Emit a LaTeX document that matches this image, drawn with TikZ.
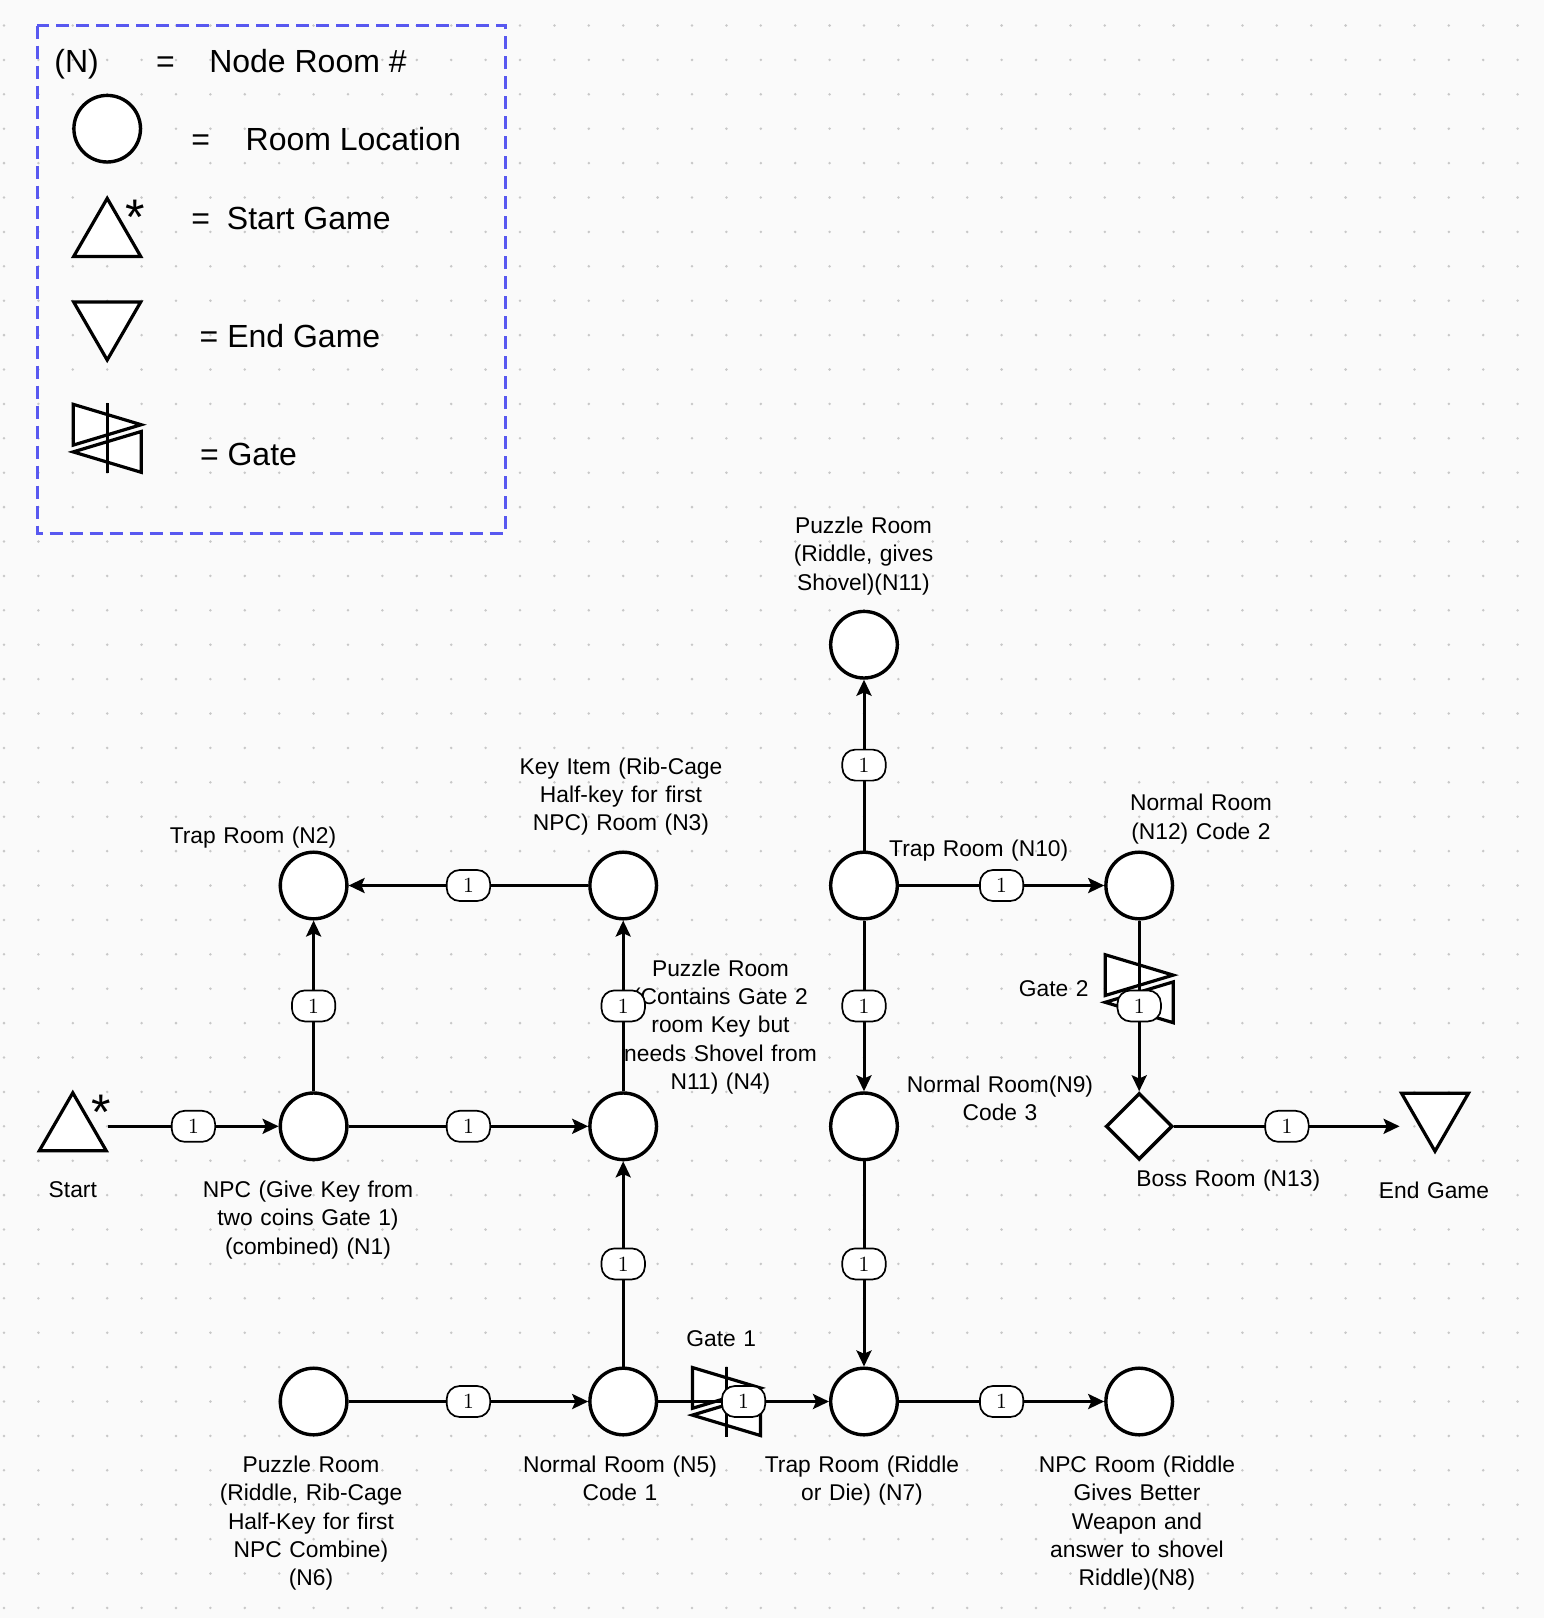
\documentclass[tikz,border=0pt]{standalone}
\usepackage{fontspec}
\newfontfamily\labelfont{Liberation Sans}
\usetikzlibrary{arrows.meta,shapes.geometric}
\definecolor{canvas}{RGB}{250,250,250}
\definecolor{griddot}{RGB}{200,200,200}
\definecolor{legendblue}{RGB}{88,88,240}

% draws a gate symbol (two offset triangles and a bar) on a marker node
\newcommand\gatemark[1]{%
  \draw[symline] ([shift={(-34,-34)}]#1.center) -- ++(68,20.4) -- ++(-68,20.4) -- cycle;
  \draw[symline] ([shift={(34,-6.8)}]#1.center) -- ++(-68,20.4) -- ++(68,20.4) -- cycle;
  \draw[symline] ([shift={(0,-35)}]#1.center) -- ++(0,70);
}
% start marker: upward triangle
\newcommand\startmark[1]{%
  \draw[symline] ([shift={(0,-33.5)}]#1.center) -- ++(-33.5,58) -- ++(67,0) -- cycle;
}
% finish marker: downward triangle
\newcommand\finishmark[1]{%
  \draw[symline] ([shift={(-33.5,-33.1)}]#1.center) -- ++(67,0) -- ++(-33.5,58) -- cycle;
}

\begin{document}
\begin{tikzpicture}[x=0.5pt,y=-0.5pt,
  room/.style={circle, draw, line width=1.7pt, fill=white, minimum size=33.3pt, inner sep=0pt},
  boss/.style={diamond, draw, line width=1.7pt, fill=white, minimum width=33.3pt, minimum height=33.3pt, inner sep=0pt},
  markbox/.style={rectangle, draw=none, minimum size=35pt, inner sep=0pt},
  symline/.style={line width=1.6pt, fill=white, line join=miter},
  flow/.style={line width=1.5pt, -{Stealth[length=8pt,width=7.5pt,inset=1.6pt]}},
  tally/.style={fill=white, draw, line width=0.85pt, rounded corners=6.5pt, minimum width=21.7pt, minimum height=15.5pt, inner sep=0pt, font=\fontsize{10.8}{12}\selectfont},
  roomlabel/.style={font=\labelfont\fontsize{11.4}{14.2}\selectfont, text width=150pt, align=center, anchor=base, inner sep=0pt},
  legendtext/.style={font=\labelfont\fontsize{16}{19.5}\selectfont, anchor=base, inner sep=0pt},
  starglyph/.style={font=\labelfont\fontsize{25}{25}\selectfont, anchor=base, inner sep=0pt},
]
\useasboundingbox (0,0) rectangle (1544,1618);
\fill[canvas] (0,0) rectangle (1544,1618);

% dotted background grid
\foreach \i in {0,...,44}{%
  \foreach \j in {0,...,46}{%
    \fill[griddot] ({4+34.4*\i},{25.5+34.4*\j}) circle (0.7pt);
  }%
}

% ---------- legend ----------
\draw[legendblue, line width=1.35pt, dash pattern=on 6.5pt off 3.5pt] (37.3,25.7) rectangle (505.7,533.3);
\node[legendtext] (legN) at (76.7,72.3) {(N)};
\node[legendtext] (legEqA) at (165.5,72.3) {=};
\node[legendtext] (legNode) at (308,72.3) {Node Room \#};

\node[room] (legRoom) at (107.2,128.7) {};
\node[legendtext] (legEqB) at (200.8,150.5) {=};
\node[legendtext] (legRoomText) at (353.3,150.7) {Room Location};

\node[markbox] (legStart) at (107.2,231.9) {};
\startmark{legStart}
\node[starglyph] (legStar) at (135.3,234.2) {*};
\node[legendtext] (legEqC) at (200.8,229.3) {=};
\node[legendtext] (legStartText) at (308.8,229.3) {Start Game};

\node[markbox] (legEnd) at (107.2,335.1) {};
\finishmark{legEnd}
\node[legendtext] (legEndText) at (290,347.7) {= End Game};

\node[markbox] (legGate) at (107.2,438.3) {};
\gatemark{legGate}
\node[legendtext] (legGateText) at (248.5,465) {= Gate};

% ---------- room captions ----------
\node[roomlabel] (capN11) at (863.5,533.3) {Puzzle Room\\(Riddle, gives\\Shovel)(N11)};
\node[roomlabel] (capN3) at (621,774) {Key Item (Rib-Cage\\Half-key for first\\NPC) Room (N3)};
\node[roomlabel] (capN2) at (253,843.3) {Trap Room (N2)};
\node[roomlabel] (capN10) at (978.7,856.7) {Trap Room (N10)};
\node[roomlabel] (capN12) at (1201,810.7) {Normal Room\\(N12) Code 2};
\node[roomlabel] (capN4) at (720.5,976) {Puzzle Room\\(Contains Gate 2\\room Key but\\needs Shovel from\\N11) (N4)};
\node[roomlabel] (capGateB) at (1053.8,996) {Gate 2};
\node[roomlabel] (capN9) at (1000,1092) {Normal Room(N9)\\Code 3};
\node[roomlabel] (capStart) at (72.8,1197.3) {Start};
\node[roomlabel] (capN1) at (308,1197.3) {NPC (Give Key from\\two coins Gate 1)\\(combined) (N1)};
\node[roomlabel] (capN13) at (1228.3,1186.7) {Boss Room (N13)};
\node[roomlabel] (capEnd) at (1434,1198.3) {End Game};
\node[roomlabel] (capGateA) at (721.2,1346.7) {Gate 1};
\node[roomlabel] (capN6) at (311,1472.3) {Puzzle Room\\(Riddle, Rib-Cage\\Half-Key for first\\NPC Combine)\\(N6)};
\node[roomlabel] (capN5) at (620,1472.3) {Normal Room (N5)\\Code 1};
\node[roomlabel] (capN7) at (862,1472.3) {Trap Room (Riddle\\or Die) (N7)};
\node[roomlabel] (capN8) at (1137,1472.3) {NPC Room (Riddle\\Gives Better\\Weapon and\\answer to shovel\\Riddle)(N8)};

% ---------- map nodes ----------
\node[room] (n1) at (313.6,1126.3) {};
\node[room] (n2) at (313.6,885.5) {};
\node[room] (n3) at (623.2,885.5) {};
\node[room] (n4) at (623.2,1126.3) {};
\node[room] (n5) at (623.2,1401.5) {};
\node[room] (n6) at (313.6,1401.5) {};
\node[room] (n7) at (864,1401.5) {};
\node[room] (n8) at (1139.2,1401.5) {};
\node[room] (n9) at (864,1126.3) {};
\node[room] (n10) at (864,885.5) {};
\node[room] (n11) at (864,644.7) {};
\node[room] (n12) at (1139.2,885.5) {};
\node[boss] (n13) at (1139.2,1126.3) {};

\node[markbox] (start) at (72.8,1126.3) {};
\startmark{start}
\node[starglyph] (startStar) at (101.1,1129.2) {*};
\node[markbox] (finish) at (1435,1126.3) {};
\finishmark{finish}

\node[markbox] (gateA) at (726.4,1401.5) {};
\gatemark{gateA}
\node[markbox] (gateB) at (1139.2,988.7) {};
\gatemark{gateB}

% ---------- connections ----------
\draw[flow] (start) -- (n1) node[tally, midway] {1};
\draw[flow] (n1) -- (n4) node[tally, midway] {1};
\draw[flow] (n1) -- (n2) node[tally, midway] {1};
\draw[flow] (n3) -- (n2) node[tally, midway] {1};
\draw[flow] (n4) -- (n3) node[tally, midway] {1};
\draw[flow] (n5) -- (n4) node[tally, midway] {1};
\draw[flow] (n6) -- (n5) node[tally, midway] {1};
\draw[flow] (n5) -- (n7) node[tally, midway] {1};
\draw[flow] (n7) -- (n8) node[tally, midway] {1};
\draw[flow] (n9) -- (n7) node[tally, midway] {1};
\draw[flow] (n10) -- (n9) node[tally, midway] {1};
\draw[flow] (n10) -- (n11) node[tally, midway] {1};
\draw[flow] (n10) -- (n12) node[tally, midway] {1};
\draw[flow] (n12) -- (n13) node[tally, midway] {1};
\draw[flow] (n13) -- (finish) node[tally, midway] {1};
\end{tikzpicture}
\end{document}
